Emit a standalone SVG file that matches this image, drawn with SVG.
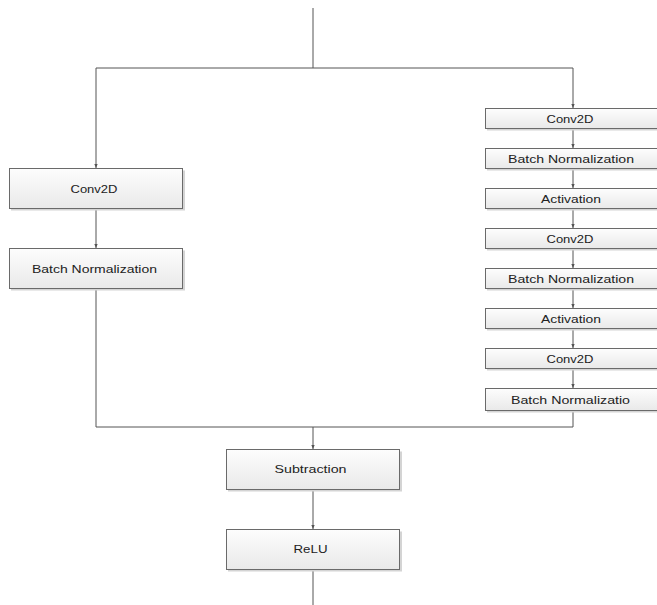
<svg xmlns="http://www.w3.org/2000/svg" width="657" height="605" viewBox="0 0 657 605">
<defs>
<linearGradient id="g" x1="0" y1="0" x2="0" y2="1">
<stop offset="0" stop-color="#fdfdfd"/>
<stop offset="1" stop-color="#e9e9e9"/>
</linearGradient>
<marker id="a" markerUnits="userSpaceOnUse" markerWidth="5" markerHeight="5" refX="4" refY="2.5" orient="auto">
<path d="M0,0.8 L4,2.5 L0,4.2 z" fill="#555"/>
</marker>
<style>
.sh{fill:#d4d4d4}
.bx{fill:url(#g);stroke:#6a6a6a;stroke-width:1}
.t{font-family:"Liberation Sans",Arial,sans-serif;font-size:11.5px;fill:#222;text-anchor:middle}
.c{fill:none;stroke:#555;stroke-width:1}
.ar{marker-end:url(#a)}
</style>
</defs>
<g id="connectors">
<path class="c" d="M313,8 V68"/>
<path class="c" d="M96,68 H573"/>
<path class="c ar" d="M96,68 V168"/>
<path class="c ar" d="M573,68 V108"/>
<path class="c ar" d="M96,208 V248"/>
<path class="c" d="M96,288 V427 H573 V411"/>
<path class="c ar" d="M573,128 V148"/>
<path class="c ar" d="M573,168 V188"/>
<path class="c ar" d="M573,208 V228"/>
<path class="c ar" d="M573,248 V268"/>
<path class="c ar" d="M573,288 V308"/>
<path class="c ar" d="M573,328 V348"/>
<path class="c ar" d="M573,368 V388"/>
<path class="c ar" d="M313,427 V449"/>
<path class="c ar" d="M313,489 V529"/>
<path class="c" d="M313,569 V605"/>
</g>
<g id="left-conv2d">
<rect class="sh" x="11" y="170.5" width="174" height="40"/>
<rect class="bx" x="9.5" y="168.5" width="173" height="40"/>
<text class="t" x="94" y="193" textLength="47" lengthAdjust="spacingAndGlyphs">Conv2D</text>
</g>
<g id="left-bn">
<rect class="sh" x="11" y="250.5" width="174" height="40"/>
<rect class="bx" x="9.5" y="248.5" width="173" height="40"/>
<text class="t" x="94.5" y="273" textLength="125" lengthAdjust="spacingAndGlyphs">Batch Normalization</text>
</g>
<g id="r-conv2d-1">
<rect class="sh" x="487" y="110.5" width="180" height="20"/>
<rect class="bx" x="485.5" y="108.5" width="180" height="20"/>
<text class="t" x="570" y="123" textLength="47" lengthAdjust="spacingAndGlyphs">Conv2D</text>
</g>
<g id="r-bn-1">
<rect class="sh" x="487" y="150.5" width="180" height="20"/>
<rect class="bx" x="485.5" y="148.5" width="180" height="20"/>
<text class="t" x="571" y="163" textLength="126" lengthAdjust="spacingAndGlyphs">Batch Normalization</text>
</g>
<g id="r-act-1">
<rect class="sh" x="487" y="190.5" width="180" height="20"/>
<rect class="bx" x="485.5" y="188.5" width="180" height="20"/>
<text class="t" x="571" y="203" textLength="60" lengthAdjust="spacingAndGlyphs">Activation</text>
</g>
<g id="r-conv2d-2">
<rect class="sh" x="487" y="230.5" width="180" height="20"/>
<rect class="bx" x="485.5" y="228.5" width="180" height="20"/>
<text class="t" x="570" y="243" textLength="47" lengthAdjust="spacingAndGlyphs">Conv2D</text>
</g>
<g id="r-bn-2">
<rect class="sh" x="487" y="270.5" width="180" height="20"/>
<rect class="bx" x="485.5" y="268.5" width="180" height="20"/>
<text class="t" x="571" y="283" textLength="126" lengthAdjust="spacingAndGlyphs">Batch Normalization</text>
</g>
<g id="r-act-2">
<rect class="sh" x="487" y="310.5" width="180" height="20"/>
<rect class="bx" x="485.5" y="308.5" width="180" height="20"/>
<text class="t" x="571" y="323" textLength="60" lengthAdjust="spacingAndGlyphs">Activation</text>
</g>
<g id="r-conv2d-3">
<rect class="sh" x="487" y="350.5" width="180" height="20"/>
<rect class="bx" x="485.5" y="348.5" width="180" height="20"/>
<text class="t" x="570" y="363" textLength="47" lengthAdjust="spacingAndGlyphs">Conv2D</text>
</g>
<g id="r-bn-3">
<rect class="sh" x="487" y="390.5" width="180" height="22"/>
<rect class="bx" x="485.5" y="388.5" width="180" height="22"/>
<text class="t" x="570.5" y="404" textLength="119" lengthAdjust="spacingAndGlyphs">Batch Normalizatio</text>
</g>
<g id="subtraction">
<rect class="sh" x="228" y="451.5" width="174" height="40"/>
<rect class="bx" x="226.5" y="449.5" width="173" height="40"/>
<text class="t" x="310.5" y="473" textLength="72" lengthAdjust="spacingAndGlyphs">Subtraction</text>
</g>
<g id="relu">
<rect class="sh" x="228" y="531.5" width="174" height="40"/>
<rect class="bx" x="226.5" y="529.5" width="173" height="40"/>
<text class="t" x="310.5" y="553" textLength="34" lengthAdjust="spacingAndGlyphs">ReLU</text>
</g>
</svg>
